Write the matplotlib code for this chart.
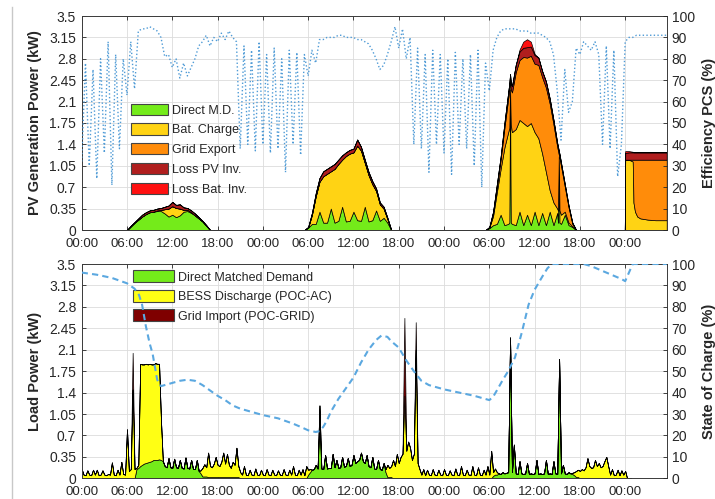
import numpy as np
import matplotlib
matplotlib.use('Agg')
import matplotlib.pyplot as plt
from matplotlib.patches import Patch
from matplotlib.lines import Line2D

plt.rcParams['font.family'] = ['Liberation Sans', 'DejaVu Sans']

# ---------------- data ----------------
xtick_hours = [0, 6, 12, 18, 24, 30, 36, 42, 48, 54, 60, 66, 72]
xtick_labels = ['00:00', '06:00', '12:00', '18:00'] * 3 + ['00:00']
kw_ticks = [0, 0.35, 0.7, 1.05, 1.4, 1.75, 2.1, 2.45, 2.8, 3.15, 3.5]
kw_labels = ['0', '0.35', '0.7', '1.05', '1.4', '1.75', '2.1', '2.45', '2.8', '3.15', '3.5']
pct_ticks = [0, 10, 20, 30, 40, 50, 60, 70, 80, 90, 100]

# PV generation split (kW)
pv_hours = [0.0,
    6.0, 6.5, 7.0, 7.5, 8.0, 8.5, 9.0, 9.5, 10.0, 10.5, 11.0, 11.5, 12.0, 12.5, 13.0, 13.5, 14.0, 14.5, 15.0, 15.5, 16.0, 16.5, 17.0,
    29.5, 30.0, 30.5, 31.0, 31.5, 32.0, 32.5, 33.0, 33.5, 34.0, 34.5, 35.0, 35.5, 36.0, 36.5, 37.0, 37.5, 38.0, 38.5, 39.0, 39.5, 40.0, 40.5, 41.0,
    53.5, 54.0, 54.5, 55.0, 55.5, 56.0, 56.5, 56.65, 56.75, 56.85, 57.0, 57.5, 58.0, 58.5, 59.0, 59.5, 60.0, 60.5, 61.0, 61.5, 62.0, 62.5, 63.0, 63.1, 63.2, 63.3, 63.5, 64.0, 64.5, 65.0, 65.5,
    71.95, 72.0, 72.5, 73.0, 73.1, 73.3, 73.6, 74.0, 75.0, 76.0, 77.5]
pv_direct = [0,
    0, .06, .12, .17, .22, .26, .29, .30, .31, .31, .27, .22, .25, .21, .24, .30, .31, .28, .24, .19, .14, .07, 0,
    0, .04, .10, .10, .30, .12, .12, .35, .12, .15, .38, .14, .15, .30, .16, .15, .38, .14, .16, .32, .15, .20, .12, 0,
    0, .03, .08, .10, .25, .08, .10, .12, 2.2, .12, .10, .08, .30, .08, .25, .08, .30, .08, .28, .08, .30, .08, .28, .12, 1.2, .12, .10, .25, .08, .05, 0,
    0, 0, 0, 0, 0, 0, 0, 0, 0, 0, 0]
pv_charge = [0,
    0, 0, 0, 0, 0, 0, 0, 0, .01, .02, .07, .13, .14, .15, .11, .03, .02, .01, 0, 0, 0, 0, 0,
    0, 0, .15, .45, .49, .76, .80, .61, .88, .93, .77, 1.07, 1.10, .97, 1.22, 1.15, .72, .76, .59, .32, .27, .15, .06, 0,
    0, .01, .15, .52, .75, 1.27, 1.5, 1.55, .10, 1.6, 1.5, 1.57, 1.5, 1.67, 1.45, 1.67, 1.3, 1.42, .97, .87, .35, .37, .07, .2, 0, .2, .15, .05, .04, .01, 0,
    0, 1.15, 1.15, 1.12, .45, .30, .22, .19, .17, .16, .16]
pv_export = [0,
    0, 0, 0, 0, 0, 0, 0, 0, 0, 0, 0, 0, 0, 0, 0, 0, 0, 0, 0, 0, 0, 0, 0,
    0, 0, 0, 0, 0, 0, 0, 0, 0, 0, 0, 0, 0, 0, 0, 0, 0, 0, 0, 0, 0, 0, 0, 0,
    0, 0, .05, .09, .15, .32, .55, .63, .15, .58, .65, .93, .98, 1.08, 1.12, 1.10, 1.12, 1.20, 1.25, 1.38, 1.42, 1.28, 1.01, .98, .04, .86, .80, .41, .25, .04, 0,
    0, 0, 0, .03, .70, .85, .93, .96, .98, .99, .99]
pv_loss_pv = [0,
    0, .01, .01, .02, .03, .03, .03, .03, .03, .03, .04, .05, .07, .05, .07, .04, .03, .03, .03, .02, .01, .01, 0,
    0, .01, .03, .05, .06, .08, .08, .08, .08, .07, .07, .06, .06, .06, .10, .06, .05, .05, .05, .04, .03, .03, .02, 0,
    0, .01, .02, .04, .05, .08, .10, .10, .10, .10, .10, .12, .14, .15, .17, .15, .14, .12, .10, .10, .08, .07, .06, .06, .06, .06, .05, .04, .03, .02, 0,
    0, .11, .12, .12, .12, .12, .12, .12, .12, .12, .12]
pv_loss_bat = [0,
    0, 0, 0, 0, 0, 0, 0, 0, 0, 0, 0, 0, 0, 0, 0, 0, 0, 0, 0, 0, 0, 0, 0,
    0, 0, 0, 0, 0, 0, 0, 0, 0, 0, 0, 0, 0, 0, 0, 0, 0, 0, 0, 0, 0, 0, 0, 0,
    0, 0, 0, 0, 0, 0, 0, 0, 0, 0, 0, 0, .03, .10, .13, .08, .02, 0, 0, 0, 0, 0, 0, 0, 0, 0, 0, 0, 0, 0, 0,
    0, .03, .02, .01, 0, 0, 0, 0, 0, 0, 0]

# PCS efficiency (%), every half hour from 00:00 of day 1
eff_pcs = [
    32, 78, 30, 75, 24, 80, 36, 88, 21, 82, 38, 80, 63, 88, 66, 93, 94, 94, 95, 94, 93, 90, 81, 82,
    76, 80, 71, 78, 72, 76, 80, 86, 88, 91, 86, 90, 88, 92, 89, 93, 90, 88, 38, 86, 40, 84, 37, 88,
    40, 82, 36, 85, 38, 80, 27, 84, 40, 83, 35, 82, 72, 84, 78, 89, 89, 90, 90, 90, 91, 91, 90, 90,
    90, 89, 89, 88, 87, 84, 80, 75, 77, 82, 88, 95, 85, 94, 80, 90, 40, 85, 38, 82, 27, 84, 40, 82,
    36, 80, 26, 83, 40, 80, 38, 82, 30, 84, 20, 78, 65, 84, 90, 93, 94, 94, 94, 94, 93, 93, 93, 92,
    92, 92, 91, 90, 88, 82, 65, 42, 75, 55, 60, 85, 82, 88, 86, 84, 88, 82, 40, 86, 38, 84, 25, 40,
    88, 90, 90, 91, 91, 91, 91, 91, 91, 91, 91, 91]

# Load supply split (kW), quarter-hour values grouped by hour (missing hours = 0)
load_direct_by_hour = {
    7: [0, .15, .17, .2], 8: [.22, .24, .25, .26], 9: [.27, .28, .3, .3], 10: [.3, .31, .3, .28],
    11: [.2, .18, .33, .18], 12: [.17, .32, .18, .17], 13: [.3, .17, .16, .34], 14: [.17, .16, .3, .15],
    15: [.15, .3, .12, .08], 16: [.03, .03, .03, .02], 17: [.02, .02, .02, .02], 18: [.02, .02, .02, .02],
    19: [.02, .02, .02, .02], 20: [.02, .02, .02, .02],
    30: [.06, .1, .14, .15], 31: [.22, .16, .9, .16], 32: [.15, .38, .16, .17], 33: [.17, .4, .18, .3],
    34: [.17, .18, .35, .19], 35: [.2, .33, .2, .22], 36: [.38, .25, .28, .3], 37: [.42, .28, .25, .38],
    38: [.2, .18, .35, .16], 39: [.15, .3, .15, .14], 40: [.25, .1, .02, .02], 41: [.02, 0, 0, 0],
    54: [0, 0, .04, .06], 55: [.06, .08, .07, .1], 56: [.08, .09, .1, 2.3], 57: [.1, .55, .08, .07],
    58: [.28, .08, .07, .08], 59: [.25, .07, .08, .07], 60: [.08, .3, .07, .08], 61: [.07, .08, .3, .07],
    62: [.08, .07, .28, .08], 63: [.07, 1.95, .08, .22], 64: [.08, .07, .1, .08], 65: [.07, .05, .02, .02],
}
load_bess_by_hour = {
    0: [.15, .06, .05, .13], 1: [.06, .05, .14, .06], 2: [.14, .05, .06, .13], 3: [.06, .05, .07, .06],
    4: [.26, .06, .05, .14], 5: [.06, .27, .07, .06], 6: [.8, .12, .15, 1.45], 7: [.15, .02, .05, 1.67],
    8: [1.64, 1.62, 1.62, 1.6], 9: [1.6, 1.58, 1.56, 1.58], 10: [1.57, 1.56, .65, 0],
    15: [0, 0, 0, .05], 16: [.14, .2, .15, .4], 17: [.18, .16, .22, .33], 18: [.2, .18, .25, .4],
    19: [.22, .38, .2, .15], 20: [.25, .2, .48, .18], 21: [.1, .06, .2, .06], 22: [.05, .14, .06, .05],
    23: [.16, .06, .05, .14], 24: [.06, .05, .15, .06], 25: [.05, .14, .06, .05], 26: [.13, .06, .05, .15],
    27: [.06, .05, .14, .06], 28: [.2, .06, .05, .14], 29: [.06, .15, .05, .2], 30: [.08, .05, 0, 0],
    31: [0, 0, .29, 0],
    40: [0, .05, .2, .15], 41: [.18, .3, .2, .4], 42: [.25, .35, .4, 1.35], 43: [.45, .6, .5, .3],
    44: [.4, 2.1, .25, .15], 45: [.06, .15, .05, .14], 46: [.06, .05, .15, .06], 47: [.05, .14, .06, .05],
    48: [.15, .06, .05, .13], 49: [.06, .05, .16, .06], 50: [.05, .2, .06, .05], 51: [.14, .06, .05, .2],
    52: [.06, .05, .18, .06], 53: [.05, .14, .06, .2], 54: [.06, .45, .06, .1], 55: [.04, 0, 0, 0],
    65: [.02, .05, .1, .12], 66: [.12, .15, .13, .18], 67: [.33, .2, .17, .18], 68: [.3, .2, .25, .18],
    69: [.2, .28, .35, .2], 70: [.06, .15, .05, .06], 71: [.14, .05, .13, .06], 72: [.12, 0, 0, 0],
}
load_grid_by_hour = {6: [0, 0, 0, .6], 42: [0, 0, 0, 1.27], 44: [0, .45, 0, 0]}

# State of charge (%)
soc_hours = [0, 2, 4, 6, 7, 7.6, 8, 8.5, 9, 9.4, 10, 10.5, 11, 12, 13, 14, 15, 16, 17, 18, 19, 20, 21, 22,
             23, 24, 26, 28, 29, 30, 31, 31.5, 32, 32.5, 33, 34, 35, 36, 37, 38, 39, 39.7, 40.5, 41, 42,
             43, 44, 45, 46, 47, 48, 50, 52, 54, 54.5, 55, 55.8, 56.5, 57.4, 58.3, 59.2, 60, 61, 61.7,
             62.3, 66.5, 67.5, 68.5, 69.5, 70.5, 71.5, 72, 72.5, 73, 77.5]
soc_pct = [96, 95, 93.5, 91, 88.5, 85.5, 81, 71, 63, 58, 46, 43, 43.5, 44.5, 45.5, 46, 45.5, 43.5, 41, 38.5,
           36.5, 34, 32.5, 31.5, 30.5, 29.5, 28, 25.5, 24, 22.4, 21.6, 22, 24, 27, 31, 37, 42, 47, 54, 60,
           64.5, 66.6, 66, 64, 61, 55, 50, 45.5, 43.5, 42.5, 41.5, 40, 38.5, 36.5, 38, 41, 46, 50, 56.4,
           68, 81, 88, 94, 98, 100, 100, 99, 97.5, 96, 94.5, 93, 92, 96, 100, 100]

# ---------------- styling ----------------
c_direct = '#74EB1A'
c_charge = '#FFD314'
c_export = '#FF8C0A'
c_losspv = '#B01E1E'
c_lossbat = '#FF1010'
c_bess = '#FFFF14'
c_grid = '#7F0000'
c_eff = '#4F9BD6'
c_soc = '#5BA8E0'
txt = '#262626'

load_hours = np.arange(0, 73, 0.25)


def expand(by_hour):
    arr = np.zeros(len(load_hours))
    for h, vals in by_hour.items():
        arr[h * 4:h * 4 + 4] = vals
    return arr


load_direct = expand(load_direct_by_hour)
load_bess = expand(load_bess_by_hour)
load_grid = expand(load_grid_by_hour)
eff_hours = np.arange(0, 78, 0.5)[:len(eff_pcs)]

fig = plt.figure(figsize=(7.15, 4.99), dpi=100)
fig.add_artist(Line2D([12 / 715, 12 / 715], [0, 1 - 7 / 499], color='#c8c8c8', lw=1))

ax1 = fig.add_axes([81.7 / 715, 1 - 230 / 499, 585 / 715, 214 / 499])
ax2 = fig.add_axes([81.7 / 715, 1 - 478.3 / 499, 585 / 715, 214.3 / 499])


def style(ax, ylabel, xpad):
    ax.set_xlim(0, 77.5)
    ax.set_ylim(0, 3.5)
    ax.set_xticks(xtick_hours)
    ax.set_xticklabels(xtick_labels)
    ax.set_yticks(kw_ticks)
    ax.set_yticklabels(kw_labels)
    ax.grid(True, color='#dcdcdc', lw=0.6)
    ax.set_axisbelow(True)
    ax.tick_params(axis='both', direction='in', length=3, width=0.6, labelsize=10,
                   colors=txt, top=True)
    ax.tick_params(axis='x', pad=xpad, labelsize=9.5)
    ax.tick_params(axis='y', pad=4)
    for s in ax.spines.values():
        s.set_color('#3a3a3a')
        s.set_linewidth(0.7)
    ax.set_ylabel(ylabel, fontsize=10.5, fontweight='bold', color=txt)
    ax.yaxis.set_label_coords(-0.068, 0.5)


def style_right(axr, ylabel):
    axr.set_ylim(0, 100)
    axr.set_yticks(pct_ticks)
    axr.tick_params(axis='y', direction='in', length=3, width=0.6, labelsize=10, colors=txt, pad=3.5)
    axr.set_ylabel(ylabel, fontsize=10.5, fontweight='bold', color=txt)
    axr.yaxis.set_label_coords(1.060, 0.5)
    for s in axr.spines.values():
        s.set_visible(False)


# Top panel
style(ax1, 'PV Generation Power (kW)', 6)
ax1.stackplot(pv_hours, pv_direct, pv_charge, pv_export, pv_loss_pv, pv_loss_bat,
              colors=[c_direct, c_charge, c_export, c_losspv, c_lossbat],
              edgecolor='k', linewidth=0.5, zorder=2)
ax1r = ax1.twinx()
ax1r.plot(eff_hours, eff_pcs, ls=':', color=c_eff, lw=1.0)
style_right(ax1r, 'Efficiency PCS (%)')
ax1r.set_xlim(0, 77.5)

handles1 = [Patch(facecolor=c, edgecolor='#444444', lw=0.8) for c in
            [c_direct, c_charge, c_export, c_losspv, c_lossbat]]
ax1.legend(handles1, ['Direct M.D.', 'Bat. Charge', 'Grid Export', 'Loss PV Inv.', 'Loss Bat. Inv.'],
           loc='upper left', bbox_to_anchor=(0.084, 0.59), frameon=False, fontsize=9,
           handlelength=3.0, handleheight=1.0, labelspacing=0.55, handletextpad=0.3,
           borderpad=0, borderaxespad=0, labelcolor=txt)

# Bottom panel
style(ax2, 'Load Power (kW)', 5.5)
ax2.stackplot(load_hours, load_direct, load_bess, load_grid,
              colors=[c_direct, c_bess, c_grid], edgecolor='k', linewidth=0.5, zorder=2)
ax2r = ax2.twinx()
ax2r.plot(soc_hours, soc_pct, color=c_soc, lw=1.5, dashes=(3, 2))
style_right(ax2r, 'State of Charge (%)')
ax2r.set_xlim(0, 77.5)

handles2 = [Patch(facecolor=c, edgecolor='#444444', lw=0.8) for c in [c_direct, c_bess, c_grid]]
ax2.legend(handles2, ['Direct Matched Demand', 'BESS Discharge (POC-AC)', 'Grid Import (POC-GRID)'],
           loc='upper left', bbox_to_anchor=(0.087, 0.97), frameon=False, fontsize=9,
           handlelength=3.3, handleheight=1.1, labelspacing=0.5, handletextpad=0.35,
           borderpad=0, borderaxespad=0, labelcolor=txt)

fig.savefig('out.png', dpi=100)
